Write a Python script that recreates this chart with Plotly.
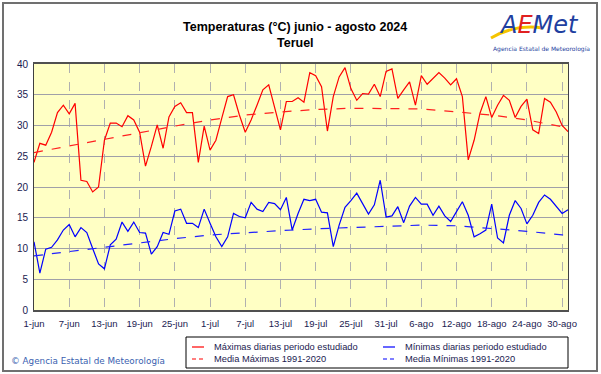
import pandas as pd
import plotly.graph_objects as go

# ---- data ----
dates = pd.date_range("2024-06-01", "2024-08-31", freq="D").strftime("%Y-%m-%d").tolist()

tmax = [24.0, 27.1, 26.8, 28.9, 32.1, 33.3, 31.9, 33.6, 21.1, 20.9,
        19.2, 20.0, 27.6, 30.4, 30.4, 29.8, 31.6, 30.9, 28.9, 23.4,
        26.6, 30.1, 26.3, 31.4, 33.1, 33.7, 32.1, 32.1, 24.0, 29.9,
        26.0, 27.6, 31.2, 34.7, 35.0, 31.7, 28.9, 30.9, 33.3, 35.8,
        36.6, 32.8, 29.3, 33.9, 33.9, 34.5, 33.8, 38.6, 38.1, 36.3,
        29.1, 34.7, 37.9, 39.4, 36.0, 34.1, 35.2, 35.1, 36.7, 34.7,
        38.8, 39.2, 34.4, 35.8, 37.1, 33.3, 38.1, 36.7, 37.7, 38.6,
        37.7, 36.6, 37.6, 34.7, 24.4, 27.6, 32.0, 34.7, 31.3, 33.3,
        34.9, 34.1, 31.3, 33.1, 34.3, 29.3, 28.7, 34.4, 33.8, 32.2,
        30.0, 29.0]

tmin = [11.1, 6.0, 9.9, 10.2, 11.4, 13.0, 13.9, 11.9, 13.4, 12.6,
        10.0, 7.5, 6.7, 10.6, 11.5, 14.3, 12.8, 14.3, 12.6, 12.5,
        9.1, 10.3, 12.6, 12.3, 16.1, 16.4, 14.1, 14.1, 13.4, 16.4,
        14.1, 11.9, 10.3, 11.9, 15.7, 15.2, 15.0, 17.5, 16.4, 16.0,
        17.5, 17.3, 16.3, 18.3, 13.0, 15.7, 18.0, 17.8, 18.0, 15.9,
        15.8, 10.3, 13.8, 16.7, 17.8, 19.0, 17.3, 15.6, 17.1, 21.1,
        15.1, 15.3, 16.8, 14.2, 16.9, 18.3, 17.2, 17.2, 15.4, 16.9,
        15.3, 14.4, 16.0, 17.6, 15.4, 11.9, 12.4, 13.0, 17.2, 11.7,
        10.9, 15.4, 17.8, 16.5, 14.0, 15.4, 17.5, 18.7, 18.0, 16.9,
        15.7, 16.3]

mean_dates = ["2024-06-01", "2024-06-07", "2024-06-13", "2024-06-19", "2024-06-25",
              "2024-07-01", "2024-07-07", "2024-07-13", "2024-07-19", "2024-07-25",
              "2024-07-31", "2024-08-06", "2024-08-12", "2024-08-18", "2024-08-24",
              "2024-08-30", "2024-08-31"]
mean_max = [25.6, 26.7, 27.8, 28.8, 29.9, 30.9, 31.7, 32.2, 32.6, 32.8,
            32.8, 32.7, 32.2, 31.7, 30.9, 29.8, 29.4]
mean_min = [8.8, 9.5, 10.2, 11.0, 11.6, 12.2, 12.6, 12.9, 13.2, 13.4,
            13.6, 13.8, 13.7, 13.3, 12.8, 12.2, 12.1]

tick_dates = mean_dates[:-1]
tick_labels = ["1-jun", "7-jun", "13-jun", "19-jun", "25-jun", "1-jul", "7-jul",
               "13-jul", "19-jul", "25-jul", "31-jul", "6-ago", "12-ago", "18-ago",
               "24-ago", "30-ago"]

series_names = ["Máximas diarias periodo estudiado", "Mínimas diarias periodo estudiado",
                "Media Máximas 1991-2020", "Media Mínimas 1991-2020"]

# ---- geometry helpers (pixels -> paper) ----
W, H = 601, 374
L, R, T, B = 34, 568, 64, 310
def px(x):
    return (x - L) / (R - L)
def py(y):
    return (B - y) / (B - T)

FONT = "Liberation Sans, Arial, sans-serif"
NAVY = "#1a1a50"
RED, BLUE = "#ff0000", "#0000ff"

fig = go.Figure()
fig.add_trace(go.Scatter(x=dates, y=tmax, mode="lines", name=series_names[0],
                         line=dict(color=RED, width=1.2)))
fig.add_trace(go.Scatter(x=dates, y=tmin, mode="lines", name=series_names[1],
                         line=dict(color=BLUE, width=1.2)))
fig.add_trace(go.Scatter(x=mean_dates, y=mean_max, mode="lines", name=series_names[2],
                         line=dict(color="#ff2020", width=1.2, dash="dash")))
fig.add_trace(go.Scatter(x=mean_dates, y=mean_min, mode="lines", name=series_names[3],
                         line=dict(color="#2020ff", width=1.2, dash="dash")))

fig.update_layout(
    width=W, height=H,
    margin=dict(l=L, r=W - R, t=T, b=H - B, autoexpand=False),
    paper_bgcolor="white",
    plot_bgcolor="#ffffc4",
    font=dict(family=FONT, size=10, color=NAVY),
    showlegend=False,
    xaxis=dict(type="date", range=["2024-06-01", "2024-08-31"],
               tickvals=tick_dates, ticktext=tick_labels,
               showgrid=True, gridcolor="#b0b0b0", griddash="dash", gridwidth=1,
               showline=True, linecolor="#505050", linewidth=2, mirror=True,
               ticks="outside", ticklen=4, tickcolor="rgba(0,0,0,0)",
               tickfont=dict(family=FONT, size=9.5, color=NAVY), zeroline=False),
    yaxis=dict(range=[0, 40], dtick=5, tick0=0,
               showgrid=True, gridcolor="#a0a0a8", gridwidth=1,
               showline=True, linecolor="#404040", linewidth=1, mirror=True,
               ticks="outside", ticklen=3, tickcolor="rgba(0,0,0,0)",
               tickfont=dict(family=FONT, size=10, color=NAVY), zeroline=False),
)

annotations = [
    dict(text="<b>Temperaturas (°C) junio - agosto 2024</b>", x=px(295), y=py(27),
         font=dict(family=FONT, size=12.5, color="black")),
    dict(text="<b>Teruel</b>", x=px(295), y=py(43),
         font=dict(family=FONT, size=12.5, color="black")),
    dict(text="© Agencia Estatal de Meteorología", x=px(9), y=py(361), xanchor="left",
         font=dict(family="DejaVu Sans, Verdana, sans-serif", size=8.8, color="#3a5fb0")),
    dict(text="<i><span style='color:#1f3fa0'>A</span><span style='color:#e02020'>E</span>"
              "<span style='color:#1f3fa0'>Met</span></i>",
         x=px(539), y=py(25), font=dict(family="DejaVu Sans, sans-serif", size=24)),
    dict(text="Agencia Estatal de Meteorología", x=px(541), y=py(49),
         font=dict(family="DejaVu Sans, sans-serif", size=6, color="#1f3fa0")),
]

# manual legend (box, samples, labels)
leg_rows = [347, 359]
leg_cols = [(192, 212), (383, 403)]
leg_items = [(series_names[0], RED, "solid", 0, 0), (series_names[2], RED, "dash", 0, 1),
             (series_names[1], BLUE, "solid", 1, 0), (series_names[3], BLUE, "dash", 1, 1)]

shapes = [
    # outer frame
    dict(type="rect", xref="paper", yref="paper", x0=px(3), x1=px(597), y0=py(371), y1=py(3),
         line=dict(color="#707070", width=2), fillcolor="rgba(0,0,0,0)", layer="below"),
    # legend box
    dict(type="rect", xref="paper", yref="paper", x0=px(186), x1=px(568), y0=py(368), y1=py(337),
         line=dict(color="#000000", width=1), fillcolor="white"),
    # yellow swoosh of the logo
    dict(type="path", xref="paper", yref="paper",
         path=f"M {px(491)},{py(38)} Q {px(515)},{py(24)} {px(543)},{py(28)}",
         line=dict(color="#f5c400", width=3)),
]
for name, col, dash, c, r in leg_items:
    x0, xt = leg_cols[c]
    y = leg_rows[r]
    shapes.append(dict(type="line", xref="paper", yref="paper", x0=px(x0), x1=px(x0 + 12),
                       y0=py(y), y1=py(y), line=dict(color=col, width=1.2,
                                                     dash="solid" if dash == "solid" else "4px,3px")))
    annotations.append(dict(text=name, x=px(xt), y=py(y), xanchor="left",
                            font=dict(family=FONT, size=9.3, color=NAVY)))

for a in annotations:
    a.setdefault("xanchor", "center")
    a["yanchor"] = "middle"
    a["xref"] = "paper"
    a["yref"] = "paper"
    a["showarrow"] = False
fig.update_layout(annotations=annotations, shapes=shapes)

fig.write_html("out.html", config={"displayModeBar": False},
               post_script="document.body.style.margin='0';document.body.style.overflow='hidden';")
